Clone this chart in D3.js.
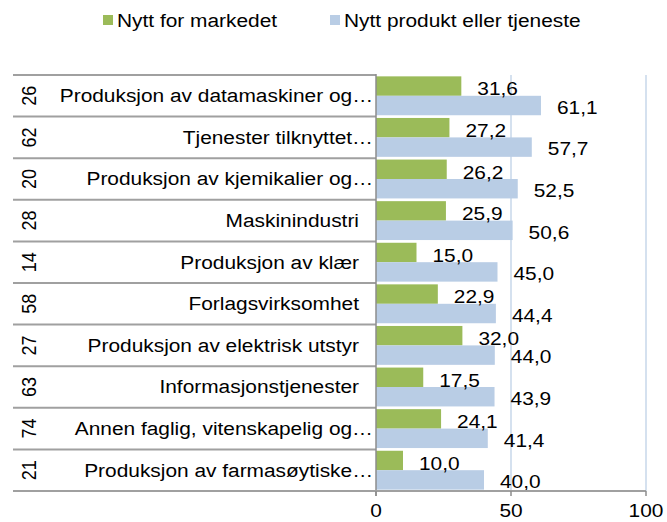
<!DOCTYPE html>
<html>
<head>
<meta charset="utf-8">
<script src="https://cdn.jsdelivr.net/npm/d3@7"></script>
<style>
  html, body { margin: 0; padding: 0; background: #fff; }
  svg { display: block; }
  text { font-family: "Liberation Sans", Arial, sans-serif; fill: #000; }
</style>
</head>
<body>
<svg id="chart" width="667" height="522"></svg>
<script>
// Industry codes and (truncated) names, top to bottom
const codes = ["26", "62", "20", "28", "14", "58", "27", "63", "74", "21"];
const names = [
  "Produksjon av datamaskiner og…",
  "Tjenester tilknyttet…",
  "Produksjon av kjemikalier og…",
  "Maskinindustri",
  "Produksjon av klær",
  "Forlagsvirksomhet",
  "Produksjon av elektrisk utstyr",
  "Informasjonstjenester",
  "Annen faglig, vitenskapelig og…",
  "Produksjon av farmasøytiske…"
];
// Share of firms (%)
const nyttMarked = [31.6, 27.2, 26.2, 25.9, 15.0, 22.9, 32.0, 17.5, 24.1, 10.0];
const nyttProdukt = [61.1, 57.7, 52.5, 50.6, 45.0, 44.4, 44.0, 43.9, 41.4, 40.0];
const seriesNames = ["Nytt for markedet", "Nytt produkt eller tjeneste"];
const xTicks = [0, 50, 100];

const colors = ["#9BBB59", "#B9CDE5"];
const FS = 18;        // font size
const SX = 1.16;      // horizontal text stretch

const svg = d3.select("#chart");

const plot = { left: 376, right: 646, top: 75, bottom: 491 };
const tableLeft = 13;

const x = d3.scaleLinear().domain([0, 100]).range([plot.left, plot.right]);
const y = d3.scaleBand().domain(d3.range(codes.length)).range([plot.top, plot.bottom]);
const inner = d3.scaleBand().domain([0, 1]).range([0, y.bandwidth()]).paddingOuter(0.07);

function label(sel, tx, ty, str, anchor, extra) {
  return sel.append("text")
    .attr("transform", `translate(${tx},${ty}) scale(${SX},1)` + (extra || ""))
    .attr("text-anchor", anchor)
    .style("font-size", FS + "px")
    .text(str);
}

// vertical gridlines
svg.append("g").selectAll("line")
  .data(xTicks.filter(d => d > 0))
  .join("line")
  .attr("x1", d => x(d)).attr("x2", d => x(d))
  .attr("y1", plot.top).attr("y2", plot.bottom)
  .attr("stroke", "#B9CDE5").attr("stroke-width", 1.2);

// table row lines
const rowEdges = d3.range(codes.length + 1).map(i => plot.top + i * y.step());
svg.append("g").selectAll("line")
  .data(rowEdges)
  .join("line")
  .attr("x1", tableLeft).attr("x2", plot.left)
  .attr("y1", d => d).attr("y2", d => d)
  .attr("stroke", "#A0A0A0").attr("stroke-width", 2);

// bars
const series = [nyttMarked, nyttProdukt];
series.forEach((vals, s) => {
  svg.append("g").selectAll("rect")
    .data(vals)
    .join("rect")
    .attr("x", x(0))
    .attr("y", (d, i) => y(i) + inner(s))
    .attr("width", d => x(d) - x(0))
    .attr("height", inner.bandwidth())
    .attr("fill", colors[s]);
});

// value labels
const fmt = v => d3.format(".1f")(v).replace(".", ",");
series.forEach((vals, s) => {
  const g = svg.append("g");
  vals.forEach((v, i) => {
    const cy = y(i) + inner(s) + inner.bandwidth() / 2 + (s === 0 ? 3 : 2);
    label(g, x(v) + 16, cy + FS * 0.35, fmt(v), "start");
  });
});

// axes lines
svg.append("line")
  .attr("x1", plot.left).attr("x2", plot.left)
  .attr("y1", plot.top - 1).attr("y2", plot.bottom + 5)
  .attr("stroke", "#8C8C8C").attr("stroke-width", 1.5);
svg.append("line")
  .attr("x1", tableLeft).attr("x2", plot.right)
  .attr("y1", plot.bottom).attr("y2", plot.bottom)
  .attr("stroke", "#A0A0A0").attr("stroke-width", 2);
svg.append("g").selectAll("line")
  .data(xTicks)
  .join("line")
  .attr("x1", d => x(d)).attr("x2", d => x(d))
  .attr("y1", plot.bottom).attr("y2", plot.bottom + 5)
  .attr("stroke", "#8C8C8C").attr("stroke-width", 1.5);

// x tick labels
const tg = svg.append("g");
xTicks.forEach(t => label(tg, x(t), 517, String(t), "middle"));

// category labels: full names sit slightly in from the edge, truncated ones run to it
const cg = svg.append("g");
codes.forEach((c, i) => {
  const cy = y(i) + y.bandwidth() / 2;
  label(cg, 28, cy, c, "middle", " rotate(-90)").attr("dy", "0.36em");
  const truncated = names[i].endsWith("…");
  label(cg, truncated ? 373 : 359, cy + FS * 0.36, names[i], "end");
});

// legend
const legendPos = [103, 330];
const lg = svg.append("g");
seriesNames.forEach((n, s) => {
  lg.append("rect")
    .attr("x", legendPos[s]).attr("y", 15)
    .attr("width", 10).attr("height", 10)
    .attr("fill", colors[s]);
  label(lg, legendPos[s] + 14, 27, n, "start");
});
</script>
</body>
</html>
